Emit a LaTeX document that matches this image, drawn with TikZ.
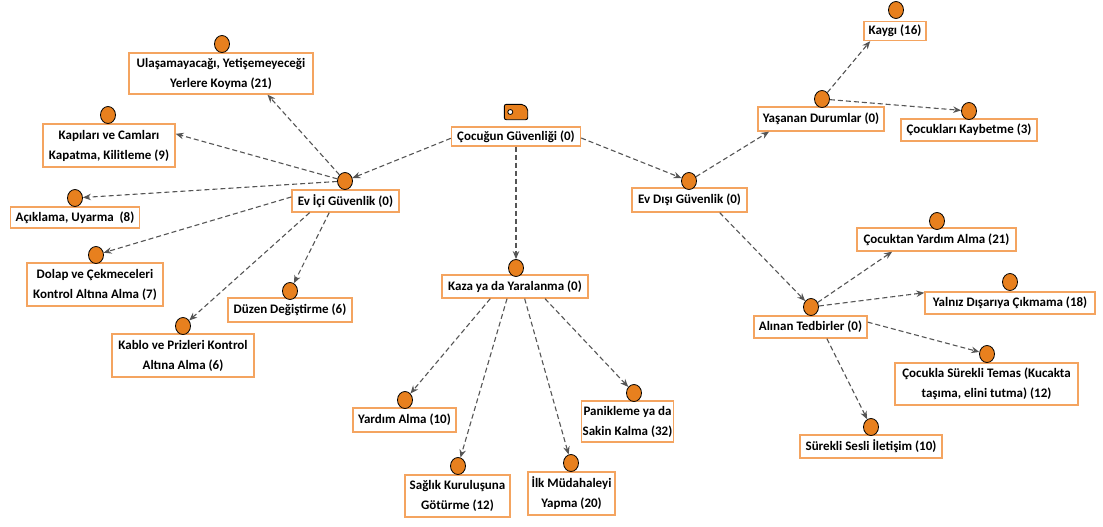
\documentclass[tikz,border=0pt]{standalone}
\usepackage{fontspec}
\setmainfont{Carlito}
\usetikzlibrary{arrows.meta,shapes.geometric}
\definecolor{boxor}{HTML}{F4A460}
\definecolor{dotor}{HTML}{E8801E}
\definecolor{lncol}{HTML}{555555}
\tikzset{
  lbl/.style={draw=boxor, line width=1.3pt, fill=white, inner sep=1pt, align=center,
    font=\bfseries\fontsize{13}{20}\selectfont, text=black},
  dot/.style={ellipse, draw=black, line width=0.8pt, fill=dotor, minimum width=15pt, minimum height=17pt, inner sep=0pt},
  conn/.style={draw=lncol, line width=1.1pt, dash pattern=on 5pt off 3pt, -{Stealth[length=8pt,width=6.5pt]}}
}
\begin{document}
\begin{tikzpicture}[x=1pt,y=-1pt]
\useasboundingbox (0,0) rectangle (1103,527);
% root
\node[lbl, minimum width=129pt, minimum height=19pt] (rootb) at (516,136.5) {Çocuğun Güvenliği (0)};
\node[minimum width=23pt, minimum height=15pt, inner sep=0pt] (rootc) at (516,112) {};
\draw[fill=dotor, draw=black, line width=0.9pt, rounded corners=2pt]
  (rootc.north west) -- ([xshift=-4.5pt]rootc.north east) -- ([yshift=-4pt]rootc.north east) -- (rootc.south east) -- (rootc.south west) -- cycle;
\draw[fill=white, draw=black, line width=0.8pt] ([xshift=6pt]rootc.west) circle (2.5pt);
% ev ici
\node[lbl, minimum width=107pt, minimum height=22pt] (evicib) at (345.5,201) {Ev İçi Güvenlik (0)};
\node[dot] (evicic) at (345,181) {};
\node[lbl, minimum width=184pt, minimum height=41pt] (ulasb) at (221,73.5) {Ulaşamayacağı, Yetişemeyeceği\\Yerlere Koyma (21)};
\node[dot] (ulasc) at (222,44) {};
\node[lbl, minimum width=132pt, minimum height=43pt] (kapb) at (109,145.5) {Kapıları ve Camları\\Kapatma, Kilitleme (9)};
\node[dot] (kapc) at (108,115) {};
\node[lbl, minimum width=129pt, minimum height=21pt] (acikb) at (75,217.5) {Açıklama, Uyarma~ (8)};
\node[dot] (acikc) at (75,198) {};
\node[lbl, minimum width=136pt, minimum height=43pt] (dolapb) at (95,284.5) {Dolap ve Çekmeceleri\\Kontrol Altına Alma (7)};
\node[dot] (dolapc) at (96,255) {};
\node[lbl, minimum width=124pt, minimum height=24pt] (duzenb) at (290,310) {Düzen Değiştirme (6)};
\node[dot] (duzenc) at (290,291) {};
\node[lbl, minimum width=142pt, minimum height=43pt] (kablob) at (183,355.5) {Kablo ve Prizleri Kontrol\\Altına Alma (6)};
\node[dot] (kabloc) at (183,326) {};
% kaza
\node[lbl, minimum width=146pt, minimum height=23pt] (kazab) at (515,286.5) {Kaza ya da Yaralanma (0)};
\node[dot] (kazac) at (516,268) {};
\node[lbl, minimum width=103pt, minimum height=24pt] (yardimb) at (404.5,420) {Yardım Alma (10)};
\node[dot] (yardimc) at (405,400) {};
\node[lbl, minimum width=105pt, minimum height=42pt] (saglikb) at (457.5,496) {Sağlık Kuruluşuna\\Götürme (12)};
\node[dot] (saglikc) at (458,466) {};
\node[lbl, minimum width=87pt, minimum height=43pt] (ilkb) at (571.5,493.5) {İlk Müdahaleyi\\Yapma (20)};
\node[dot] (ilkc) at (571,463) {};
\node[lbl, minimum width=81pt, minimum height=41pt] (panikb) at (627.5,421.5) {Panikleme ya da\\Sakin Kalma (32)};
\node[dot] (panikc) at (634,393) {};
% ev disi
\node[lbl, minimum width=115pt, minimum height=24pt] (evdisib) at (689.5,200) {Ev Dışı Güvenlik (0)};
\node[dot] (evdisic) at (689,181) {};
\node[lbl, minimum width=126pt, minimum height=24pt] (yasanb) at (821,119) {Yaşanan Durumlar (0)};
\node[dot] (yasanc) at (822,99) {};
\node[lbl, minimum width=62pt, minimum height=19pt] (kaygib) at (895,31) {Kaygı (16)};
\node[dot] (kaygic) at (896,10) {};
\node[lbl, minimum width=136pt, minimum height=22pt] (kaybetb) at (969,130) {Çocukları Kaybetme (3)};
\node[dot] (kaybetc) at (969,111) {};
\node[lbl, minimum width=113pt, minimum height=22pt] (alinanb) at (810.5,327) {Alınan Tedbirler (0)};
\node[dot] (alinanc) at (811,307) {};
\node[lbl, minimum width=159pt, minimum height=23pt] (cyardb) at (936.5,239.5) {Çocuktan Yardım Alma (21)};
\node[dot] (cyardc) at (937,221) {};
\node[lbl, minimum width=170pt, minimum height=22pt] (yalnizb) at (1010,303) {Yalnız Dışarıya Çıkmama (18)};
\node[dot] (yalnizc) at (1010,282) {};
\node[lbl, minimum width=183pt, minimum height=42pt] (temasb) at (986.5,384) {Çocukla Sürekli Temas (Kucakta\\taşıma, elini tutma) (12)};
\node[dot] (temasc) at (987,354) {};
\node[lbl, minimum width=142pt, minimum height=23pt] (surekb) at (871,446.5) {Sürekli Sesli İletişim (10)};
\node[dot] (surekc) at (871,427) {};
% connectors
\draw[conn] (intersection of rootc--evicic and rootb.north west--rootb.south west) -- (evicic);
\draw[conn] (intersection of rootc--evdisic and rootb.north east--rootb.south east) -- (evdisic);
\draw[conn] (rootb.south) -- (kazac);
\draw[conn] (evicic) -- (intersection of evicic--ulasc and ulasb.south west--ulasb.south east);
\draw[conn] (evicic) -- (intersection of evicic--kapc and kapb.north east--kapb.south east);
\draw[conn] (evicic) -- (acikc);
\draw[conn] (intersection of evicic--dolapc and evicib.north west--evicib.south west) -- (dolapc);
\draw[conn] (intersection of evicic--kabloc and evicib.south west--evicib.south east) -- (kabloc);
\draw[conn] (intersection of evicic--duzenc and evicib.south west--evicib.south east) -- (duzenc);
\draw[conn] (intersection of kazac--yardimc and kazab.south west--kazab.south east) -- (yardimc);
\draw[conn] (intersection of kazac--saglikc and kazab.south west--kazab.south east) -- (saglikc);
\draw[conn] (intersection of kazac--ilkc and kazab.south west--kazab.south east) -- (ilkc);
\draw[conn] (intersection of kazac--panikc and kazab.south west--kazab.south east) -- (panikc);
\draw[conn] (evdisic) -- (intersection of evdisic--yasanc and yasanb.south west--yasanb.south east);
\draw[conn] (intersection of evdisic--alinanc and evdisib.south west--evdisib.south east) -- (alinanc);
\draw[conn] (yasanc) -- (intersection of yasanc--kaygic and kaygib.south west--kaygib.south east);
\draw[conn] (yasanc) -- (kaybetc);
\draw[conn] (alinanc) -- (intersection of alinanc--cyardc and cyardb.south west--cyardb.south east);
\draw[conn] (alinanc) -- (intersection of alinanc--yalnizc and yalnizb.north west--yalnizb.south west);
\draw[conn] (intersection of alinanc--temasc and alinanb.north east--alinanb.south east) -- (temasc);
\draw[conn] (intersection of alinanc--surekc and alinanb.south west--alinanb.south east) -- (surekc);
\end{tikzpicture}
\end{document}
